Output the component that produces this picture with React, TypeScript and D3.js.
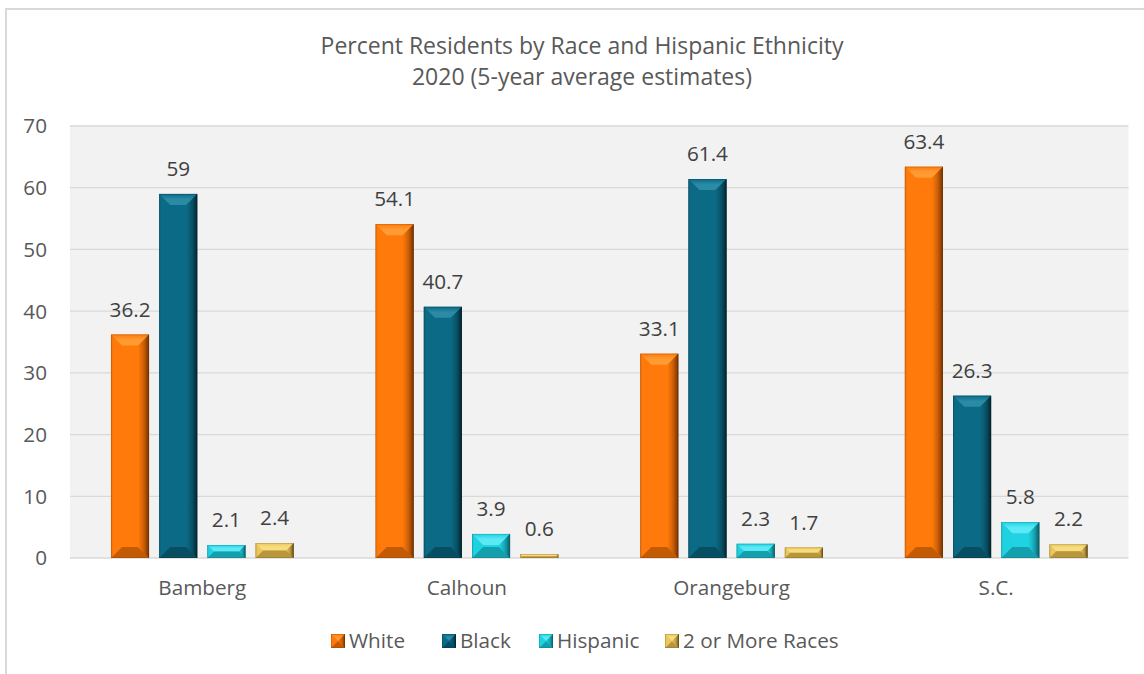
import React from "react";
import * as d3 from "d3";

const categories = ["Bamberg", "Calhoun", "Orangeburg", "S.C."];
const seriesNames = ["White", "Black", "Hispanic", "2 or More Races"];
const white = [36.2, 54.1, 33.1, 63.4];
const black = [59, 40.7, 61.4, 26.3];
const hispanic = [2.1, 3.9, 2.3, 5.8];
const twoOrMore = [2.4, 0.6, 1.7, 2.2];
const yTicks = [0, 10, 20, 30, 40, 50, 60, 70];
const titleLines = ["Percent Residents by Race and Hispanic Ethnicity", "2020 (5-year average estimates)"];

const seriesValues = [white, black, hispanic, twoOrMore];

const palette = [
  { base: "#FF7A0A", light: "#FF9B33", dark: "#C35A06", edge: "#6E3000" },
  { base: "#0B6A85", light: "#2B8AA5", dark: "#084E63", edge: "#03222C" },
  { base: "#20D2E2", light: "#5BEAF5", dark: "#149FAD", edge: "#0B5A63" },
  { base: "#EBC75C", light: "#F7DD7F", dark: "#B8963C", edge: "#5E4A18" },
];
const legendX = [331, 442, 539, 665];

const W = 1144;
const H = 674;
const plot = { left: 70, right: 1128.5, top: 126, bottom: 558 };
const FONT = "'Open Sans', 'Noto Sans', sans-serif";
const FS = 20.7;

function BevelBar({ x, y, w, h, i, maxB = 11 }: any) {
  const c = palette[i];
  const b = Math.min(maxB, h / 2, w / 2);
  const pts = (arr: number[][]) => arr.map((p) => p.join(",")).join(" ");
  return (
    <g>
      <rect x={x} y={y} width={w} height={h} fill={`url(#body${i})`} />
      <polygon points={pts([[x, y], [x + w, y], [x + w - b, y + b], [x + b, y + b]])} fill={`url(#top${i})`} />
      <polygon points={pts([[x, y + h], [x + w, y + h], [x + w - b, y + h - b], [x + b, y + h - b]])} fill={c.dark} />
      <polygon points={pts([[x + w, y], [x + w, y + h], [x + w - b, y + h - b], [x + w - b, y + b]])} fill={`url(#right${i})`} opacity={0.85} />
      <polygon points={pts([[x, y], [x, y + h], [x + b, y + h - b], [x + b, y + b]])} fill={c.base} opacity={0.6} />
      <rect x={x + 0.3} y={y + 0.3} width={w - 0.6} height={h - 0.6} fill="none" stroke={c.edge} strokeOpacity={0.35} strokeWidth={0.6} />
    </g>
  );
}

export default function App() {
  const x0 = d3.scaleBand<string>().domain(categories).range([plot.left, plot.right]).paddingInner(0).paddingOuter(0);
  const x1 = d3.scaleBand<string>().domain(seriesNames).range([0, x0.bandwidth()]).paddingInner(0.21).paddingOuter(0.85);
  const y = d3.scaleLinear().domain([0, 70]).range([plot.bottom, plot.top]);

  return (
    <svg width={W} height={H} style={{ position: "absolute", left: 0, top: 0, display: "block" }} fontFamily={FONT}>
      <defs>
        {palette.map((c, i) => (
          <React.Fragment key={i}>
            <linearGradient id={`body${i}`} x1="0" x2="1" y1="0" y2="0">
              <stop offset="0" stopColor={c.dark} />
              <stop offset="0.06" stopColor={c.base} />
              <stop offset="0.8" stopColor={c.base} />
              <stop offset="0.92" stopColor={c.dark} />
              <stop offset="1" stopColor={c.edge} />
            </linearGradient>
            <linearGradient id={`top${i}`} x1="0" x2="0" y1="0" y2="1">
              <stop offset="0" stopColor={c.base} />
              <stop offset="0.5" stopColor={c.light} />
              <stop offset="1" stopColor={c.light} />
            </linearGradient>
            <linearGradient id={`right${i}`} x1="0" x2="1" y1="0" y2="0">
              <stop offset="0" stopColor={c.base} />
              <stop offset="0.55" stopColor={c.dark} />
              <stop offset="1" stopColor={c.edge} />
            </linearGradient>
          </React.Fragment>
        ))}
      </defs>
      <rect x={0} y={0} width={W} height={H} fill="#ffffff" />
      <rect x={6} y={9} width={W + 20} height={H + 20} fill="#ffffff" stroke="#d9d9d9" strokeWidth={2} />

      {titleLines.map((t, k) => (
        <text key={t} x={582} y={54 + k * 31} textAnchor="middle" fontSize={23} fill="#595959">
          {t}
        </text>
      ))}

      <rect x={plot.left} y={plot.top} width={plot.right - plot.left} height={plot.bottom - plot.top} fill="#f2f2f2" />
      {yTicks.map((t) => (
        <g key={t}>
          <line x1={plot.left} x2={plot.right} y1={y(t)} y2={y(t)} stroke="#d9d9d9" strokeWidth={t === 0 ? 1.6 : 1.3} />
          <text x={47} y={y(t)} dy="0.36em" textAnchor="end" fontSize={FS} fill="#595959">
            {t}
          </text>
        </g>
      ))}

      {categories.map((cat, ci) => (
        <g key={cat}>
          {seriesNames.map((s, si) => {
            const v = seriesValues[si][ci];
            const bx = (x0(cat) as number) + (x1(s) as number);
            const bw = x1.bandwidth();
            const top = y(v);
            return (
              <g key={s}>
                <BevelBar x={bx} y={top} w={bw} h={y(0) - top} i={si} />
                <text x={bx + bw / 2} y={top - 18} textAnchor="middle" fontSize={FS} fill="#404040">
                  {v}
                </text>
              </g>
            );
          })}
          <text x={(x0(cat) as number) + x0.bandwidth() / 2} y={595} textAnchor="middle" fontSize={FS} fill="#595959">
            {cat}
          </text>
        </g>
      ))}

      {seriesNames.map((s, si) => (
        <g key={s}>
          <BevelBar x={legendX[si]} y={634} w={14} h={14} i={si} maxB={7} />
          <text x={legendX[si] + 18} y={648} fontSize={FS} fill="#595959">
            {s}
          </text>
        </g>
      ))}
    </svg>
  );
}
